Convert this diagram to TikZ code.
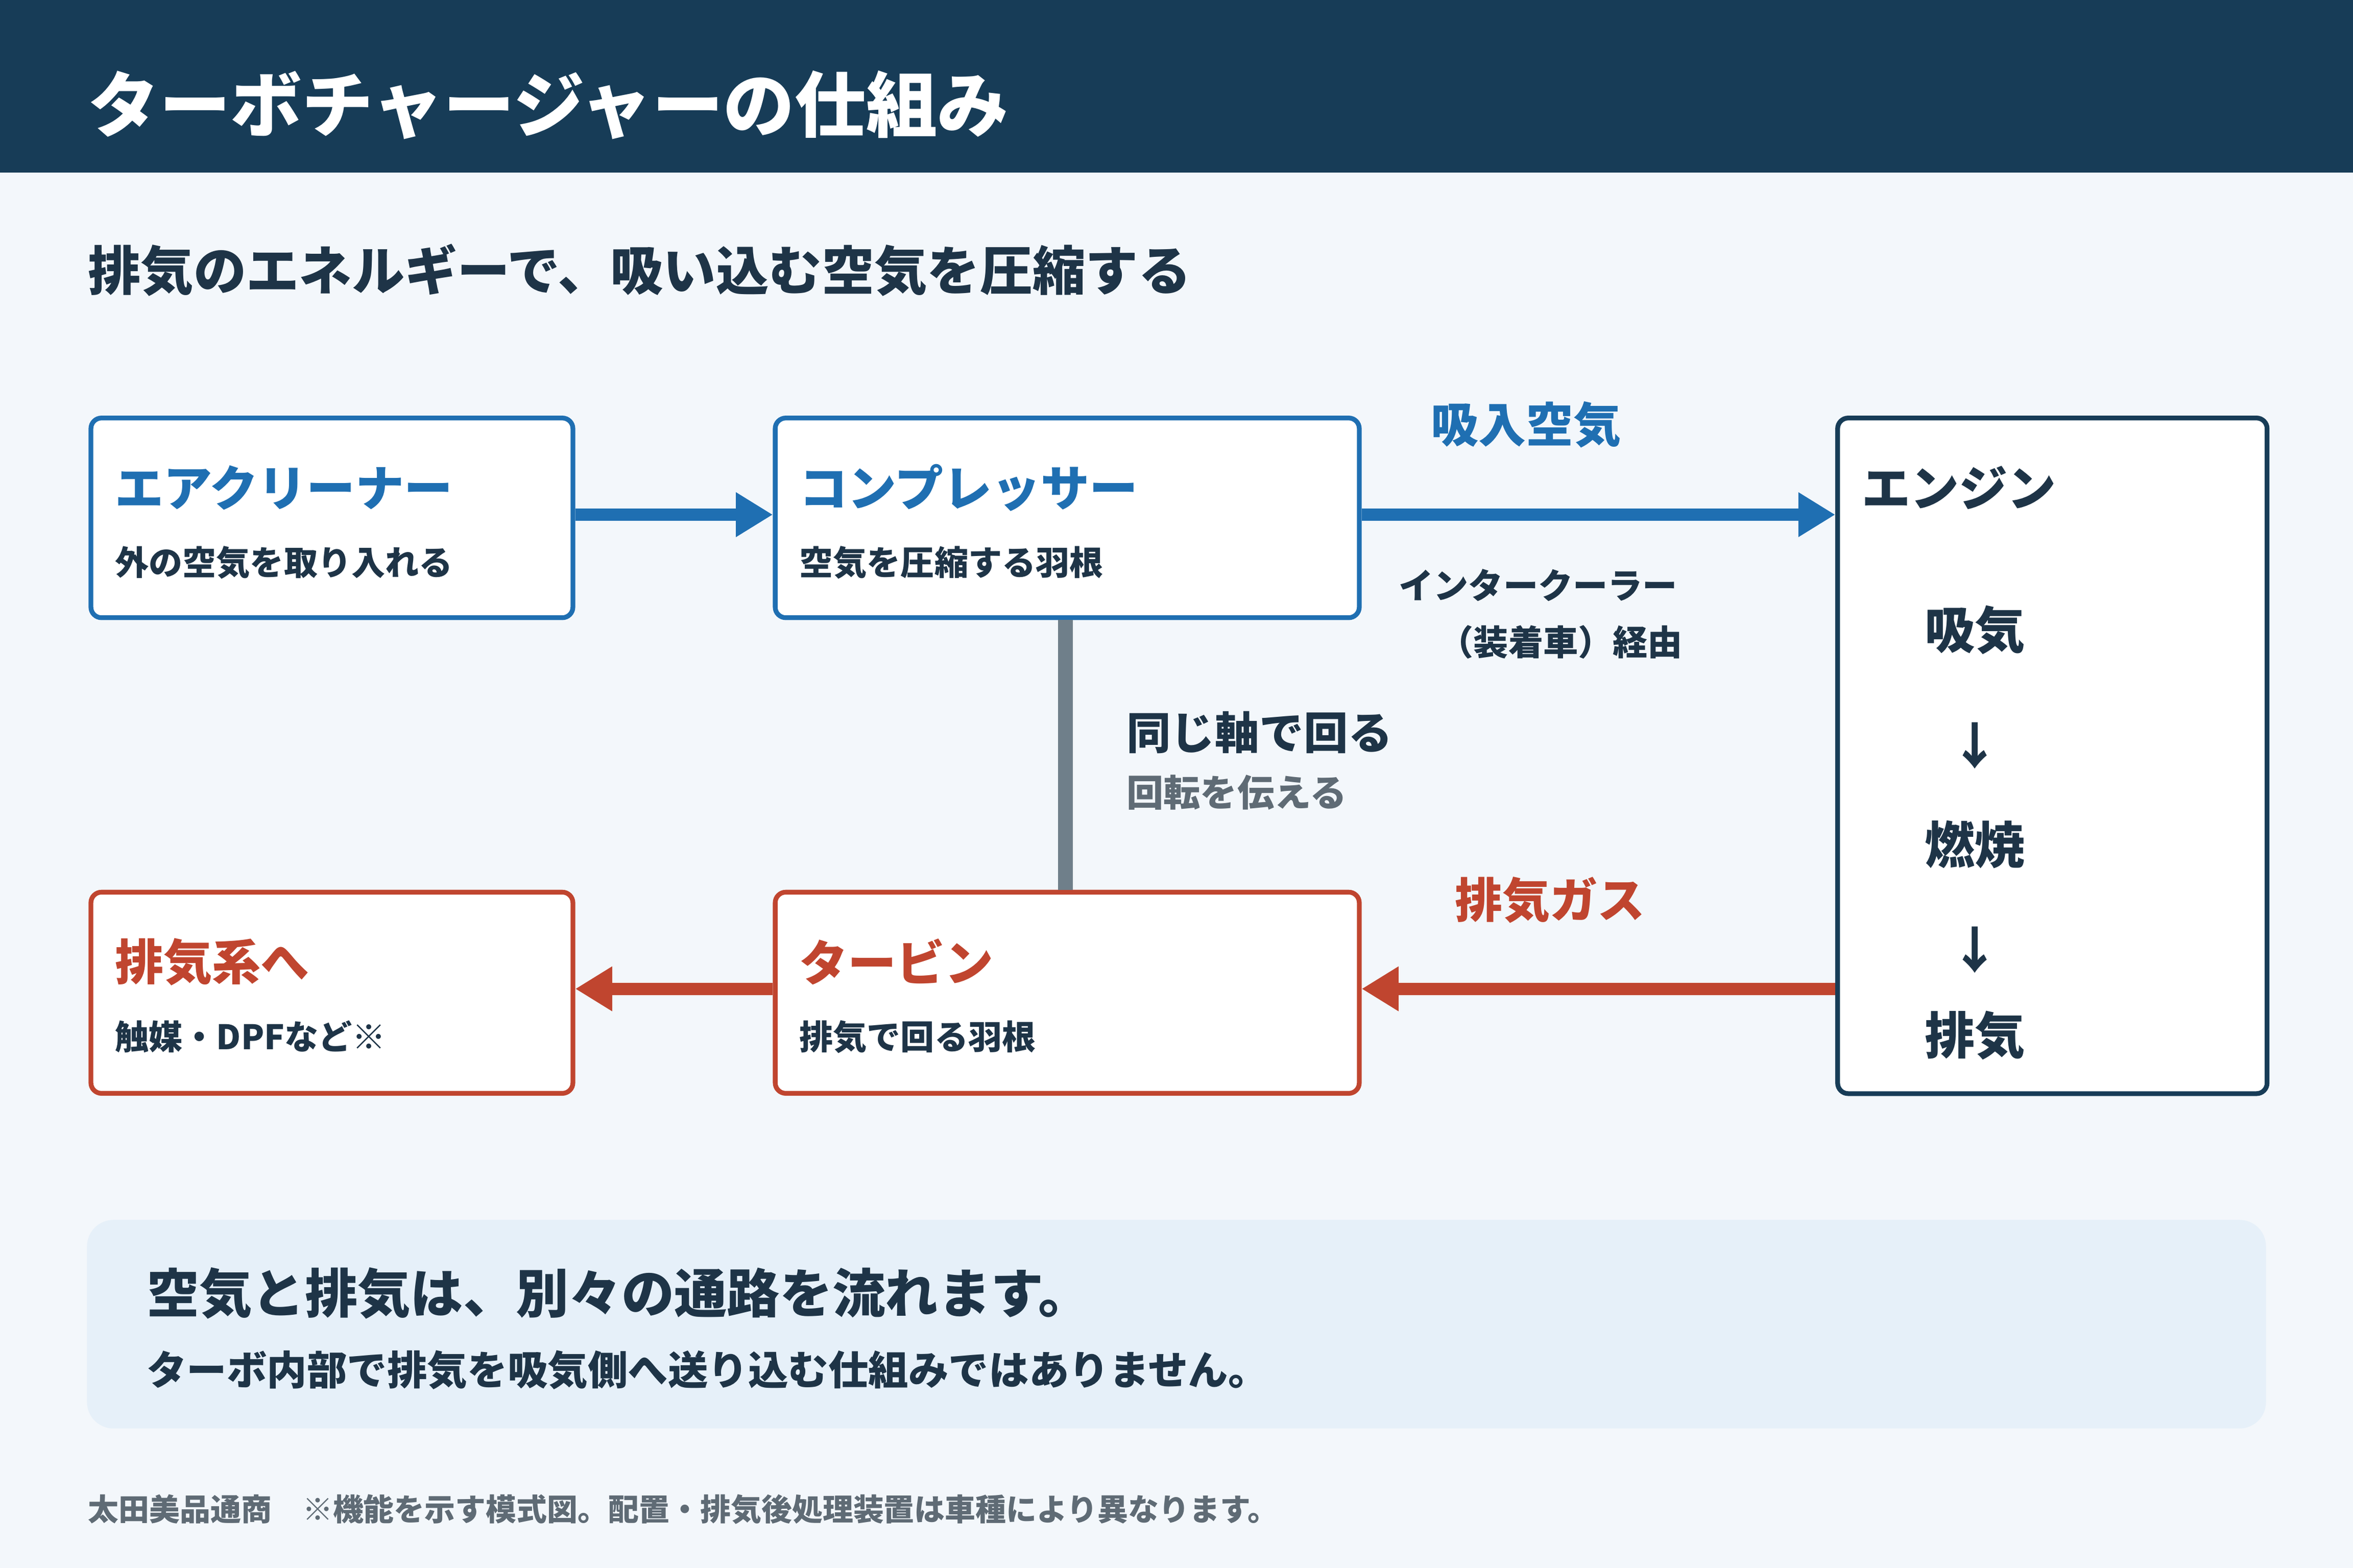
\documentclass[tikz,border=0pt]{standalone}
\usepackage{fontspec}
\setmainfont{Noto Sans CJK JP}
\usetikzlibrary{positioning,arrows.meta}
\definecolor{navy}{HTML}{173C57}
\definecolor{bluec}{HTML}{1F6FB2}
\definecolor{redc}{HTML}{C0452F}
\definecolor{bgc}{HTML}{F3F7FB}
\definecolor{panelc}{HTML}{E6F0F9}
\definecolor{shaftc}{HTML}{6F7F8A}
\definecolor{textc}{HTML}{1E3447}
\definecolor{grayc}{HTML}{5F6B75}
\tikzset{
    part/.style={
           rectangle,
           rounded corners=2pt,
           fill=white, line width=0.9pt,
           anchor=north west,
           },
    head/.style={anchor=west, inner sep=0pt, font=\fontsize{9.2}{11}\selectfont\bfseries},
    sub/.style={anchor=west, inner sep=0pt, text=textc, font=\fontsize{6.4}{8}\selectfont\bfseries},
    flow/.style={line width=2.3pt, -{Triangle[length=7pt,width=8pt]}},
}
\begin{document}
\begin{tikzpicture}[x=0.01cm,y=-0.01cm]
    % background and header
    \fill[bgc] (0,0) rectangle (1568,1045);
    \fill[navy] (0,0) rectangle (1568,115);
    \useasboundingbox (0,0) rectangle (1568,1045);
    \node[anchor=west, inner sep=0pt, text=white,
        font=\fontsize{13.5}{16}\selectfont\bfseries] (title) at (58,70)
        {ターボチャージャーの仕組み};
    \node[anchor=west, inner sep=0pt, text=textc,
        font=\fontsize{10}{12}\selectfont\bfseries] (lead) at (58,180)
        {排気のエネルギーで、吸い込む空気を圧縮する};

    % the parts
    \node[part, draw=bluec, minimum width=3.21cm, minimum height=1.33cm] (cleaner) at (59,277) {};
    \node[part, draw=bluec, minimum width=3.89cm, minimum height=1.33cm] (comp) at (515,277) {};
    \node[part, draw=navy, minimum width=2.86cm, minimum height=4.5cm] (engine) at (1223,277) {};
    \node[part, draw=redc, minimum width=3.21cm, minimum height=1.34cm] (exhaust) at (59,593) {};
    \node[part, draw=redc, minimum width=3.89cm, minimum height=1.34cm] (turbine) at (515,593) {};

    \node[head, text=bluec] at (76,325) {エアクリーナー};
    \node[sub] at (76,375) {外の空気を取り入れる};
    \node[head, text=bluec] at (532,325) {コンプレッサー};
    \node[sub] at (532,375) {空気を圧縮する羽根};
    \node[head, text=redc] at (76,641) {排気系へ};
    \node[sub] at (76,691) {触媒・DPFなど※};
    \node[head, text=redc] at (532,641) {タービン};
    \node[sub] at (532,691) {排気で回る羽根};

    % engine contents
    \node[head, text=textc] at (1240,325) {エンジン};
    \node[text=textc, font=\fontsize{9.5}{11}\selectfont\bfseries] (intake) at (1316,420) {吸気};
    \node[text=textc, font=\fontsize{9.5}{11}\selectfont\bfseries] at (1316,497) {↓};
    \node[text=textc, font=\fontsize{9.5}{11}\selectfont\bfseries] (burn) at (1316,563) {燃焼};
    \node[text=textc, font=\fontsize{9.5}{11}\selectfont\bfseries] at (1316,633) {↓};
    \node[text=textc, font=\fontsize{9.5}{11}\selectfont\bfseries] (outgas) at (1316,690) {排気};

    % flows
    \draw[flow, bluec] (cleaner.east |- 0,343) -- (comp.west |- 0,343);
    \draw[flow, bluec] (comp.east |- 0,343) -- (engine.west |- 0,343);
    \draw[flow, redc] (engine.west |- 0,659) -- (turbine.east |- 0,659);
    \draw[flow, redc] (turbine.west |- 0,659) -- (exhaust.east |- 0,659);
    \draw[shaftc, line width=2.8pt] (comp.south -| 710,0) -- (turbine.north -| 710,0);

    \node[text=bluec, font=\fontsize{9}{11}\selectfont\bfseries] (airlbl) at (1017,283) {吸入空気};
    \node[text=textc, font=\fontsize{6.6}{8}\selectfont\bfseries] (ic) at (1025,390) {インタークーラー};
    \node[text=textc, font=\fontsize{6.6}{8}\selectfont\bfseries] (ic2) at (1040,428) {（装着車）経由};
    \node[text=redc, font=\fontsize{9}{11}\selectfont\bfseries] (gaslbl) at (1033,600) {排気ガス};
    \node[anchor=west, inner sep=0pt, text=textc, font=\fontsize{8.4}{10}\selectfont\bfseries] (axis) at (750,488) {同じ軸で回る};
    \node[anchor=west, inner sep=0pt, text=grayc, font=\fontsize{7}{9}\selectfont\bfseries] (axis2) at (750,528) {回転を伝える};

    % note panel
    \fill[panelc, rounded corners=5pt] (58,813) rectangle (1510,952);
    \node[anchor=west, inner sep=0pt, text=textc, font=\fontsize{10}{12}\selectfont\bfseries] (note) at (97,862)
        {空気と排気は、別々の通路を流れます。};
    \node[anchor=west, inner sep=0pt, text=textc, font=\fontsize{7.6}{9}\selectfont\bfseries] (note2) at (97,913)
        {ターボ内部で排気を吸気側へ送り込む仕組みではありません。};
    \node[anchor=west, inner sep=0pt, text=grayc, font=\fontsize{5.8}{7}\selectfont\bfseries] (foot) at (58,1006)
        {太田美品通商　※機能を示す模式図。配置・排気後処理装置は車種により異なります。};
\end{tikzpicture}
\end{document}
